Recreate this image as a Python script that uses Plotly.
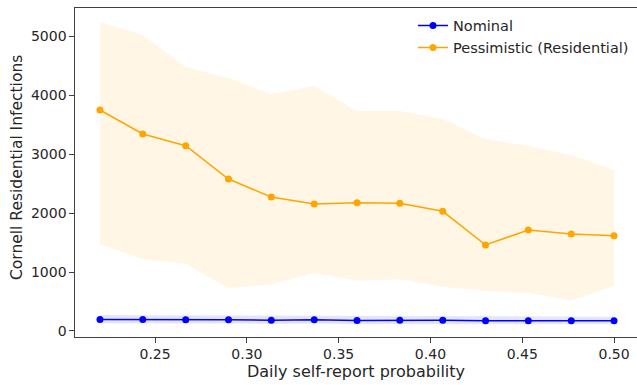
import plotly.graph_objects as go

x = [0.22, 0.2433, 0.2667, 0.29, 0.3133, 0.3367, 0.36, 0.3833, 0.4067, 0.43, 0.4533, 0.4767, 0.50]

nominal = [197, 197, 189, 189, 182, 189, 178, 184, 183, 172, 175, 175, 175]
nominal_lo = [132, 133, 126, 127, 120, 126, 116, 122, 121, 111, 114, 114, 114]
nominal_hi = [270, 268, 258, 258, 250, 258, 246, 253, 252, 240, 243, 243, 243]

pess = [3752, 3345, 3146, 2580, 2275, 2156, 2178, 2168, 2032, 1460, 1715, 1647, 1618]
pess_lo = [1472, 1222, 1138, 725, 793, 985, 854, 877, 752, 679, 650, 514, 764]
pess_hi = [5241, 5025, 4482, 4295, 4024, 4160, 3735, 3735, 3600, 3260, 3141, 2988, 2733]

tick_vals_x = [0.25, 0.30, 0.35, 0.40, 0.45, 0.50]
tick_text_x = ["0.25", "0.30", "0.35", "0.40", "0.45", "0.50"]
tick_vals_y = [0, 1000, 2000, 3000, 4000, 5000]

x_title = "Daily self-report probability"
y_title = "Cornell Residential Infections"

fig = go.Figure()

# bands
fig.add_trace(go.Scatter(x=x + x[::-1], y=pess_hi + pess_lo[::-1], fill="toself",
                         fillcolor="rgba(255,165,0,0.1)", line=dict(width=0),
                         hoverinfo="skip", showlegend=False))
fig.add_trace(go.Scatter(x=x + x[::-1], y=nominal_hi + nominal_lo[::-1], fill="toself",
                         fillcolor="rgba(0,0,255,0.1)", line=dict(width=0),
                         hoverinfo="skip", showlegend=False))

fig.add_trace(go.Scatter(x=x, y=nominal, mode="lines+markers", name="Nominal",
                         line=dict(color="blue", width=1.5), marker=dict(size=7, color="blue")))
fig.add_trace(go.Scatter(x=x, y=pess, mode="lines+markers", name="Pessimistic (Residential)",
                         line=dict(color="orange", width=1.5), marker=dict(size=7, color="orange")))

axis_common = dict(showline=True, linecolor="#404040", linewidth=1.25, ticks="outside",
                   ticklen=4.5, tickcolor="#404040", tickwidth=1.25, showgrid=False, zeroline=False,
                   automargin=False,
                   tickfont=dict(family="DejaVu Sans", size=14, color="#262626"))

fig.update_layout(
    width=637, height=385,
    margin=dict(l=75, r=0, t=8, b=48, autoexpand=False),
    plot_bgcolor="white", paper_bgcolor="white",
    font=dict(family="DejaVu Sans", color="#262626"),
    showlegend=True,
    legend=dict(x=0.6014, y=0.995, xanchor="left", yanchor="top", bgcolor="rgba(0,0,0,0)",
                font=dict(family="DejaVu Sans", size=14.5, color="#262626"),
                tracegroupgap=0, itemwidth=30),
    xaxis=dict(range=[0.2064, 0.5125], tickvals=tick_vals_x, ticktext=tick_text_x,
               mirror=True,
               title=dict(text=x_title, font=dict(size=16), standoff=4),
               **axis_common),
    yaxis=dict(range=[-102, 5484], tickvals=tick_vals_y, **axis_common),
    annotations=[dict(text=y_title, xref="paper", yref="paper", x=-0.1032, y=0.5137,
                      xanchor="center", yanchor="middle", textangle=-90, showarrow=False,
                      font=dict(family="DejaVu Sans", size=15.5, color="#262626"))],
)

fig.write_html("out.html")
